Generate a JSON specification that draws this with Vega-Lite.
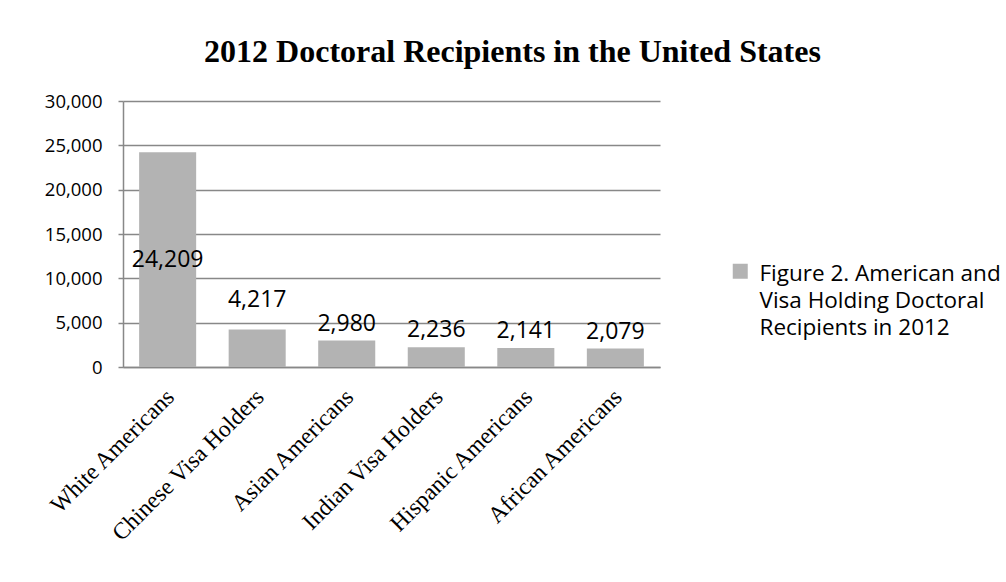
{
  "$schema": "https://vega.github.io/schema/vega-lite/v6.json",
  "autosize": "none",
  "width": 537,
  "height": 266,
  "padding": {"left": 123, "top": 101, "right": 346, "bottom": 215},
  "background": "white",
  "title": {
    "text": "2012 Doctoral Recipients in the United States",
    "font": "Liberation Serif",
    "fontSize": 32,
    "fontWeight": "bold",
    "color": "black",
    "anchor": "middle",
    "frame": "group",
    "dx": 121,
    "offset": 23
  },
  "data": {
    "values": [
      {"group": "White Americans", "recipients": 24209, "series": "Figure 2. American and Visa Holding Doctoral Recipients in 2012"},
      {"group": "Chinese Visa Holders", "recipients": 4217, "series": "Figure 2. American and Visa Holding Doctoral Recipients in 2012"},
      {"group": "Asian Americans", "recipients": 2980, "series": "Figure 2. American and Visa Holding Doctoral Recipients in 2012"},
      {"group": "Indian Visa Holders", "recipients": 2236, "series": "Figure 2. American and Visa Holding Doctoral Recipients in 2012"},
      {"group": "Hispanic Americans", "recipients": 2141, "series": "Figure 2. American and Visa Holding Doctoral Recipients in 2012"},
      {"group": "African Americans", "recipients": 2079, "series": "Figure 2. American and Visa Holding Doctoral Recipients in 2012"}
    ]
  },
  "encoding": {
    "x": {
      "field": "group",
      "type": "nominal",
      "sort": null,
      "title": null,
      "scale": {"paddingInner": 0.363, "paddingOuter": 0.18},
      "axis": {
        "labelAngle": -45,
        "labelAlign": "right",
        "labelBaseline": "middle",
        "labelFont": "Liberation Serif",
        "labelFontSize": 23.5,
        "labelColor": "black",
        "labelPadding": 26,
        "labelOffset": 3,
        "ticks": false,
        "domainColor": "#888888",
        "domainWidth": 1.5,
        "labelLimit": 400
      }
    }
  },
  "layer": [
    {
      "mark": {"type": "bar"},
      "encoding": {
        "y": {
          "field": "recipients",
          "type": "quantitative",
          "title": null,
          "scale": {"domain": [0, 30000], "nice": false},
          "axis": {"values": [0, 5000, 10000, 15000, 20000, 25000, 30000], "format": ",.0f"}
        },
        "color": {
          "field": "series",
          "type": "nominal",
          "scale": {"range": ["#b3b3b3"]},
          "legend": {
            "title": null,
            "orient": "none",
            "legendX": 606,
            "legendY": 159,
            "symbolType": "square",
            "symbolSize": 225,
            "symbolStrokeWidth": 0,
            "symbolOpacity": 1,
            "labelFont": "Open Sans",
            "labelFontSize": 22.5,
            "labelColor": "black",
            "labelOffset": 8,
            "labelLimit": 400,
            "labelBaseline": "top",
            "labelExpr": "['Figure 2. American and', 'Visa Holding Doctoral', 'Recipients in 2012']",
            "encode": {"labels": {"update": {"lineHeight": {"value": 27}, "dy": {"value": -8}}}}
          }
        }
      }
    },
    {
      "transform": [
        {"filter": "datum.group == 'White Americans'"},
        {"calculate": "datum.recipients / 2", "as": "mid"}
      ],
      "mark": {"type": "text", "font": "Open Sans", "fontSize": 23, "color": "black", "baseline": "middle"},
      "encoding": {
        "y": {"field": "mid", "type": "quantitative", "title": null, "axis": {"values": [0, 5000, 10000, 15000, 20000, 25000, 30000], "format": ",.0f"}},
        "text": {"field": "recipients", "type": "quantitative", "format": ",.0f"}
      }
    },
    {
      "transform": [{"filter": "datum.group == 'Chinese Visa Holders'"}],
      "mark": {"type": "text", "font": "Open Sans", "fontSize": 23, "color": "black", "baseline": "middle", "dy": -30},
      "encoding": {
        "y": {"field": "recipients", "type": "quantitative", "title": null, "axis": {"values": [0, 5000, 10000, 15000, 20000, 25000, 30000], "format": ",.0f"}},
        "text": {"field": "recipients", "type": "quantitative", "format": ",.0f"}
      }
    },
    {
      "transform": [{"filter": "datum.recipients < 4000"}],
      "mark": {"type": "text", "font": "Open Sans", "fontSize": 23, "color": "black", "baseline": "middle", "dy": -17},
      "encoding": {
        "y": {"field": "recipients", "type": "quantitative", "title": null, "axis": {"values": [0, 5000, 10000, 15000, 20000, 25000, 30000], "format": ",.0f"}},
        "text": {"field": "recipients", "type": "quantitative", "format": ",.0f"}
      }
    }
  ],
  "config": {
    "view": {"stroke": null},
    "axisY": {
      "labelFont": "Open Sans",
      "labelFontSize": 18.5,
      "labelColor": "black",
      "labelPadding": 16,
      "tickSize": 5,
      "tickColor": "#888888",
      "tickWidth": 1.5,
      "domainColor": "#888888",
      "domainWidth": 1.5,
      "gridColor": "#888888",
      "gridWidth": 1.5,
      "gridOpacity": 1
    }
  }
}
